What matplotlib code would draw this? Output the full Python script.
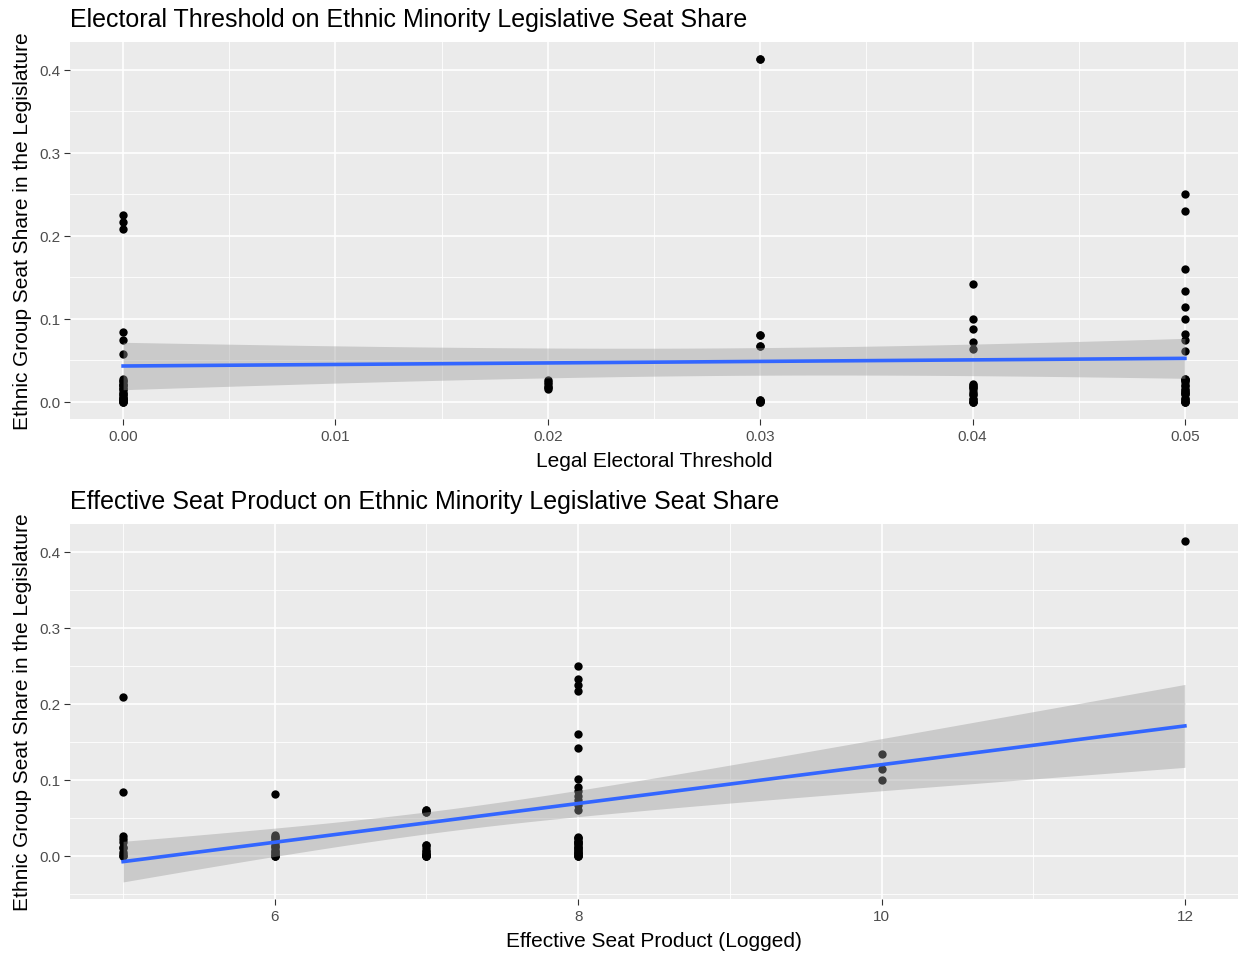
import numpy as np
import matplotlib
matplotlib.use("Agg")
import matplotlib.pyplot as plt

plt.rcParams['font.family'] = ['Liberation Sans', 'DejaVu Sans']

# ---------------- data ----------------
# Panel 1: seat share by legal electoral threshold (overlapping points included)
thr_000 = [0.225, 0.217, 0.208, 0.084, 0.074, 0.058, 0.027, 0.022, 0.018, 0.012, 0.007, 0.003, 0.0,
           0.0, 0.020, 0.010, 0.025, 0.005, 0.015, 0.002, 0.0, 0.020, 0.010, 0.025, 0.005, 0.015, 0.002]
thr_002 = [0.026, 0.021, 0.015, 0.018, 0.024, 0.018]
thr_003 = [0.413, 0.080, 0.067, 0.001, 0.413, 0.080, 0.067, 0.001, 0.0, 0.002, 0.0, 0.002]
thr_004 = [0.142, 0.100, 0.088, 0.072, 0.064, 0.022, 0.015, 0.008, 0.003, 0.0,
           0.0, 0.018, 0.010, 0.004, 0.020, 0.012, 0.0, 0.018]
thr_005 = [0.250, 0.230, 0.160, 0.134, 0.114, 0.100, 0.082, 0.074, 0.061, 0.028, 0.024, 0.019,
           0.014, 0.009, 0.004, 0.0, 0.0, 0.026, 0.012, 0.020, 0.005, 0.016, 0.002, 0.028, 0.009,
           0.0, 0.026, 0.012]
thr_levels = [0.00, 0.02, 0.03, 0.04, 0.05]
thr_groups = [thr_000, thr_002, thr_003, thr_004, thr_005]

# Panel 2: seat share by effective seat product (logged)
esp_5 = [0.209, 0.084, 0.026, 0.022, 0.010, 0.003, 0.0, 0.0, 0.005, 0.012, 0.018]
esp_6 = [0.081, 0.028, 0.022, 0.017, 0.010, 0.004, 0.0,
         0.0, 0.025, 0.013, 0.006, 0.020, 0.002, 0.0, 0.025, 0.013, 0.006]
esp_7 = [0.060, 0.058, 0.014, 0.006, 0.002, 0.0, 0.060, 0.058, 0.014, 0.006, 0.002, 0.0,
         0.0, 0.003, 0.010, 0.0]
esp_8 = [0.250, 0.232, 0.225, 0.217, 0.160, 0.142, 0.101, 0.090, 0.085, 0.079, 0.073, 0.067,
         0.061, 0.025, 0.020, 0.015, 0.010, 0.005, 0.0,
         0.0, 0.024, 0.012, 0.004, 0.018, 0.008, 0.002, 0.015, 0.0, 0.024, 0.012, 0.004, 0.018, 0.008]
esp_10 = [0.134, 0.114, 0.100]
esp_12 = [0.414]
esp_levels = [5, 6, 7, 8, 10, 12]
esp_groups = [esp_5, esp_6, esp_7, esp_8, esp_10, esp_12]

thr_xticks = [0.00, 0.01, 0.02, 0.03, 0.04, 0.05]
thr_xlabels = ["0.00", "0.01", "0.02", "0.03", "0.04", "0.05"]
thr_xminor = [0.005, 0.015, 0.025, 0.035, 0.045]
esp_xticks = [6, 8, 10, 12]
esp_xlabels = ["6", "8", "10", "12"]
esp_xminor = [5, 7, 9, 11]
yticks = [0.0, 0.1, 0.2, 0.3, 0.4]
ylabels = ["0.0", "0.1", "0.2", "0.3", "0.4"]

titles = ["Electoral Threshold on Ethnic Minority Legislative Seat Share",
          "Effective Seat Product on Ethnic Minority Legislative Seat Share"]
xtitles = ["Legal Electoral Threshold", "Effective Seat Product (Logged)"]
ytitle = "Ethnic Group Seat Share in the Legislature"


def flatten(levels, groups):
    xs, ys = [], []
    for lv, g in zip(levels, groups):
        xs += [lv]*len(g)
        ys += list(g)
    return np.array(xs, float), np.array(ys, float)


def t975(df):
    z = 1.959964
    return z + (z**3 + z) / (4*df) + (5*z**5 + 16*z**3 + 3*z) / (96*df**2)


def lm_fit(x, y, xs):
    n = len(x)
    b, a = np.polyfit(x, y, 1)
    res = y - (a + b*x)
    s = np.sqrt(np.sum(res**2) / (n - 2))
    sxx = np.sum((x - x.mean())**2)
    fit = a + b*xs
    se = s*np.sqrt(1.0/n + (xs - x.mean())**2 / sxx)
    t = t975(n - 2)
    return fit, fit - t*se, fit + t*se


thr_x, thr_y = flatten(thr_levels, thr_groups)
esp_x, esp_y = flatten(esp_levels, esp_groups)

fig = plt.figure(figsize=(12.39, 9.54), dpi=100)
rects = [[70/1239, 1-420/954, 1168/1239, 377/954],
         [70/1239, 1-900/954, 1168/1239, 375/954]]
panels = [(thr_x, thr_y, thr_xticks, thr_xlabels, thr_xminor),
          (esp_x, esp_y, esp_xticks, esp_xlabels, esp_xminor)]

for i, (xa, ya, xt, xl, xm) in enumerate(panels):
    ax = fig.add_axes(rects[i])
    ax.set_facecolor('#EBEBEB')
    xs = np.linspace(xa.min(), xa.max(), 80)
    fit, lo, hi = lm_fit(xa, ya, xs)

    ax.scatter(xa, ya, s=36, color='black', zorder=3, linewidths=0)
    ax.fill_between(xs, lo, hi, color='#999999', alpha=0.4, linewidth=0, zorder=4)
    ax.plot(xs, fit, color='#3366FF', linewidth=2.6, zorder=5)

    xr = xa.max() - xa.min()
    ax.set_xlim(xa.min() - 0.05*xr, xa.max() + 0.05*xr)
    ymin = min(ya.min(), lo.min()); ymax = max(ya.max(), hi.max())
    yr = ymax - ymin
    ax.set_ylim(ymin - 0.05*yr, ymax + 0.05*yr)

    ax.set_xticks(xt); ax.set_xticklabels(xl)
    ax.set_xticks(xm, minor=True)
    ax.set_yticks(yticks); ax.set_yticklabels(ylabels)
    y0, y1 = ax.get_ylim()
    ax.set_yticks([v for v in [-0.05, 0.05, 0.15, 0.25, 0.35, 0.45] if y0 < v < y1], minor=True)

    ax.grid(True, which='major', color='white', linewidth=1.2, zorder=0)
    ax.grid(True, which='minor', color='white', linewidth=0.6, zorder=0)
    ax.set_axisbelow(True)
    for sp in ax.spines.values():
        sp.set_visible(False)
    ax.tick_params(which='major', length=4, width=0.8, color='#333333',
                   labelcolor='#4D4D4D', labelsize=11, pad=3)
    ax.tick_params(which='minor', length=0)

    ax.set_title(titles[i], loc='left', fontsize=18, color='black', pad=11.5)
    ax.set_xlabel(xtitles[i], fontsize=15, color='black', labelpad=6)
    ax.set_ylabel(ytitle, fontsize=15, color='black', labelpad=5)

fig.savefig('out.png', dpi=100)
